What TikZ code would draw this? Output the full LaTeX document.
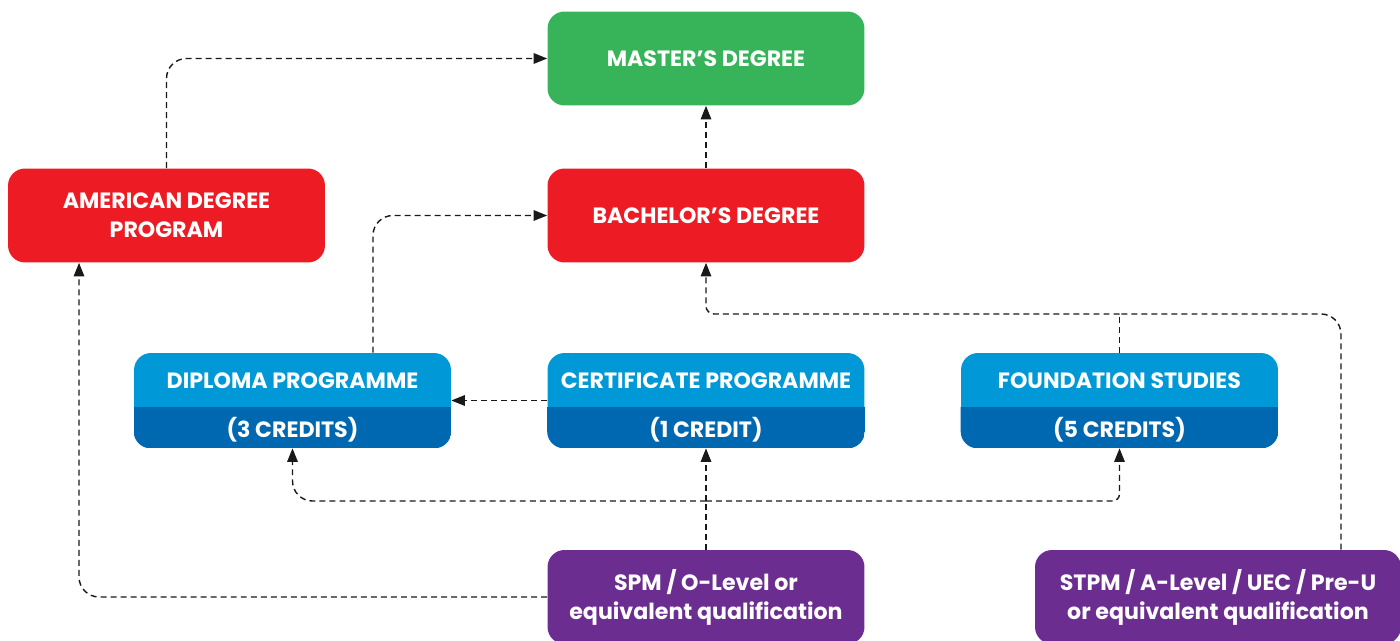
\documentclass[tikz,border=0pt]{standalone}
\usepackage{fontspec}
\setmainfont{Poppins}
\usepackage{xcolor}
\usetikzlibrary{arrows.meta, positioning, calc}

\definecolor{masgreen}{RGB}{55,180,90}
\definecolor{degred}{RGB}{237,28,36}
\definecolor{progblue}{RGB}{0,152,214}
\definecolor{credblue}{RGB}{0,103,177}
\definecolor{qualpurple}{RGB}{108,45,145}
\definecolor{linegray}{RGB}{25,25,25}

\begin{document}
\begin{tikzpicture}[x=0.02cm, y=-0.02cm,
    box/.style={rounded corners=0.34cm, minimum width=6.34cm, minimum height=1.88cm,
        inner sep=0pt, text=white, align=center,
        font=\bfseries\fontsize{12.6}{16.5}\selectfont},
    boxtext/.style={inner sep=0pt, text=white, font=\bfseries\fontsize{12.6}{16.5}\selectfont},
    flow/.style={draw=linegray, line width=0.8pt, dash pattern=on 3.4pt off 2.3pt,
        rounded corners=0.4cm, -{Triangle[length=0.27cm, width=0.21cm]}},
    link/.style={flow, -}]
    \useasboundingbox (0,0) rectangle (1400,641);
    \clip (0,0) rectangle (1400,641);

    % Degrees
    \node[box, fill=masgreen] (master) at (706,58.5) {MASTER’S DEGREE};
    \node[box, fill=degred] (bach) at (706,215.5) {BACHELOR’S DEGREE};
    \node[box, fill=degred] (amer) at (166.5,215.5) {AMERICAN DEGREE\\PROGRAM};

    % Diploma programme
    \node[box, fill=progblue, minimum height=1.9cm] (dip) at (292.5,400.5) {};
    \begin{scope}
        \clip[rounded corners=0.34cm] (dip.north west) rectangle (dip.south east);
        \fill[credblue] (134,407) rectangle (dip.south east);
    \end{scope}
    \node[boxtext] (diptitle) at (292.5,381) {DIPLOMA PROGRAMME};
    \node[boxtext] (dipcred) at (292.5,429.5) {(3 CREDITS)};

    % Certificate programme
    \node[box, fill=progblue, minimum height=1.9cm] (cert) at (706,400.5) {};
    \begin{scope}
        \clip[rounded corners=0.34cm] (cert.north west) rectangle (cert.south east);
        \fill[credblue] (547,407) rectangle (cert.south east);
    \end{scope}
    \node[boxtext] (certtitle) at (706,381) {CERTIFICATE PROGRAMME};
    \node[boxtext] (certcred) at (706,429.5) {(1 CREDIT)};

    % Foundation studies
    \node[box, fill=progblue, minimum height=1.9cm] (fnd) at (1119.5,400.5) {};
    \begin{scope}
        \clip[rounded corners=0.34cm] (fnd.north west) rectangle (fnd.south east);
        \fill[credblue] (960,407) rectangle (fnd.south east);
    \end{scope}
    \node[boxtext] (fndtitle) at (1119.5,381) {FOUNDATION STUDIES};
    \node[boxtext] (fndcred) at (1119.5,429.5) {(5 CREDITS)};

    % Entry qualifications
    \node[box, fill=qualpurple] (spm) at (706,597) {SPM / O-Level or\\equivalent qualification};
    \node[box, fill=qualpurple, minimum width=7.32cm] (stpm) at (1218,597)
        {STPM / A-Level / UEC / Pre-U\\or equivalent qualification};

    % Paths to degrees
    \draw[flow] (amer.north) |- (master.west);
    \draw[flow] (bach.north) -- (master.south);
    \draw[flow] ([xshift=1.61cm]dip.north) |- (bach.west);
    \draw[flow] (cert.west) -- (dip.east);

    % From SPM
    \coordinate (fork) at (706,501);
    \draw[link] (spm.north) -- (fork);
    \draw[flow] (fork) -- (cert.south);
    \draw[flow] (fork) -| (dip.south);
    \draw[flow, rounded corners=0.14cm] (fork) -| (fnd.south);
    \draw[flow] (spm.west) -| ([xshift=-1.75cm]amer.south);

    % From STPM and foundation
    \coordinate (merge) at (1119.5,314);
    \draw[link] ([xshift=2.46cm]stpm.north) |- (merge);
    \draw[link] (fnd.north) -- (merge);
    \draw[flow, rounded corners=0.16cm] (merge) -| (bach.south);
\end{tikzpicture}
\end{document}
